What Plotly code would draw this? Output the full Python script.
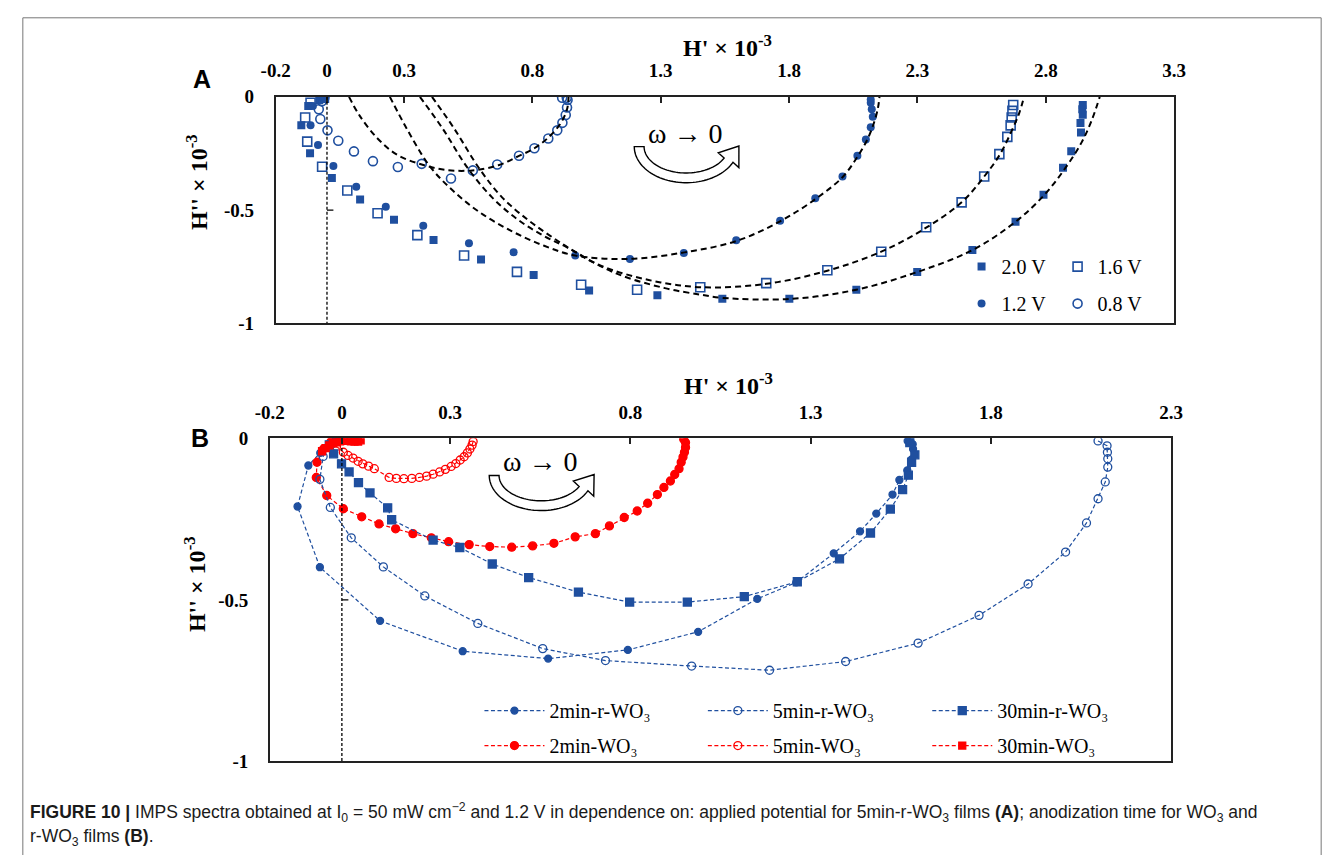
import numpy as np
import plotly.graph_objects as go

W, H = 1341, 866
BLUE = "#1f4f9f"
RED = "#ff0000"
SERIF = "Liberation Serif"
SANS = "Liberation Sans"

# ---------------- Panel A data (5min-r-WO3 at different potentials) ----------------
a20_x = [-0.010, -0.030, -0.073, -0.100, -0.066, 0.019, 0.129, 0.261, 0.415, 0.600, 0.805, 1.021, 1.287,
         1.540, 1.801, 2.062, 2.299, 2.514, 2.682, 2.791, 2.867, 2.899, 2.937, 2.935, 2.944, 2.942, 2.944]
a20_y = [-0.004, -0.015, -0.040, -0.126, -0.249, -0.359, -0.453, -0.543, -0.632, -0.718, -0.787, -0.855, -0.876,
         -0.892, -0.892, -0.852, -0.774, -0.677, -0.552, -0.432, -0.313, -0.240, -0.158, -0.116, -0.079, -0.055, -0.036]

a16_x = [-0.012, -0.064, -0.085, -0.077, -0.019, 0.079, 0.197, 0.352, 0.534, 0.740, 0.990, 1.208, 1.454,
         1.711, 1.949, 2.159, 2.334, 2.472, 2.560, 2.619, 2.650, 2.663, 2.667, 2.670, 2.673]
a16_y = [-0.004, -0.026, -0.091, -0.198, -0.309, -0.414, -0.514, -0.611, -0.701, -0.773, -0.830, -0.852, -0.841,
         -0.823, -0.766, -0.684, -0.576, -0.466, -0.352, -0.253, -0.177, -0.126, -0.091, -0.062, -0.036]

a12_x = [-0.008, -0.055, -0.064, -0.035, 0.025, 0.114, 0.229, 0.375, 0.553, 0.727, 0.967, 1.180, 1.390,
         1.594, 1.765, 1.902, 2.008, 2.066, 2.099, 2.118, 2.126, 2.122, 2.118, 2.118]
a12_y = [-0.003, -0.040, -0.126, -0.213, -0.306, -0.397, -0.486, -0.569, -0.647, -0.687, -0.701, -0.716, -0.690,
         -0.634, -0.547, -0.448, -0.352, -0.260, -0.188, -0.134, -0.088, -0.055, -0.026, -0.012]

a08_x = [-0.010, -0.020, -0.032, -0.026, 0.002, 0.044, 0.105, 0.179, 0.276, 0.369, 0.483, 0.568, 0.663,
         0.748, 0.808, 0.862, 0.897, 0.917, 0.930, 0.935, 0.937, 0.916, 0.934]
a08_y = [-0.003, -0.020, -0.055, -0.098, -0.148, -0.194, -0.241, -0.284, -0.310, -0.296, -0.361, -0.325, -0.299,
         -0.260, -0.227, -0.184, -0.148, -0.115, -0.080, -0.047, -0.014, -0.004, -0.004]

# fitted curves (dashed black)
fit08_x = [0.086, 0.127, 0.197, 0.273, 0.369, 0.464, 0.566, 0.668, 0.744, 0.808, 0.858, 0.909, 0.935, 0.941]
fit08_y = [0.0, -0.083, -0.184, -0.256, -0.299, -0.323, -0.325, -0.302, -0.263, -0.227, -0.184, -0.119, -0.055, 0.0]
fit12_x = [0.245, 0.311, 0.400, 0.490, 0.591, 0.719, 0.846, 0.967, 1.177, 1.393, 1.594, 1.765, 1.902, 2.008,
           2.066, 2.105, 2.132, 2.146, 2.152]
fit12_y = [0.0, -0.141, -0.306, -0.414, -0.507, -0.593, -0.658, -0.701, -0.716, -0.687, -0.637, -0.550, -0.452,
           -0.355, -0.265, -0.188, -0.110, -0.050, 0.0]
fit16_x = [0.362, 0.451, 0.547, 0.642, 0.744, 0.846, 0.935, 1.062, 1.253, 1.456, 1.711, 1.949, 2.159, 2.334,
           2.472, 2.560, 2.622, 2.667, 2.697, 2.715]
fit16_y = [0.0, -0.141, -0.313, -0.443, -0.543, -0.615, -0.665, -0.744, -0.809, -0.841, -0.826, -0.768, -0.684,
           -0.578, -0.466, -0.352, -0.253, -0.150, -0.070, 0.0]
fit20_x = [0.409, 0.496, 0.591, 0.681, 0.782, 0.871, 0.960, 1.126, 1.316, 1.456, 1.540, 1.801, 2.062, 2.299,
           2.514, 2.682, 2.795, 2.877, 2.940, 2.980, 3.010]
fit20_y = [0.0, -0.141, -0.313, -0.443, -0.543, -0.615, -0.680, -0.780, -0.845, -0.874, -0.888, -0.893, -0.852,
           -0.774, -0.677, -0.552, -0.432, -0.313, -0.200, -0.100, 0.0]

# ---------------- Panel B data (anodization time) ----------------
b2r_x = [-0.010, -0.030, -0.060, -0.093, -0.123, -0.061, 0.106, 0.335, 0.572, 0.793, 0.988, 1.152, 1.260,
         1.364, 1.437, 1.482, 1.527, 1.546, 1.568, 1.580, 1.584, 1.583, 1.569]
b2r_y = [-0.003, -0.015, -0.045, -0.084, -0.211, -0.399, -0.565, -0.659, -0.682, -0.655, -0.599, -0.497, -0.446,
         -0.356, -0.288, -0.233, -0.174, -0.129, -0.099, -0.065, -0.033, -0.018, -0.008]

b5r_x = [-0.010, -0.030, -0.052, -0.061, -0.032, 0.026, 0.115, 0.230, 0.377, 0.557, 0.731, 0.970, 1.186,
         1.397, 1.598, 1.767, 1.903, 2.007, 2.065, 2.097, 2.117, 2.124, 2.124, 2.123, 2.122, 2.097]
b5r_y = [-0.003, -0.020, -0.056, -0.127, -0.214, -0.308, -0.398, -0.488, -0.573, -0.651, -0.688, -0.705, -0.718,
         -0.691, -0.634, -0.548, -0.451, -0.352, -0.262, -0.187, -0.135, -0.089, -0.063, -0.043, -0.023, -0.008]

b30r_x = [-0.015, -0.035, -0.023, -0.001, 0.020, 0.046, 0.078, 0.127, 0.138, 0.253, 0.327, 0.417, 0.518,
          0.656, 0.798, 0.958, 1.116, 1.263, 1.380, 1.466, 1.521, 1.555, 1.571, 1.580, 1.589, 1.575]
b30r_y = [-0.003, -0.020, -0.048, -0.079, -0.104, -0.137, -0.169, -0.215, -0.252, -0.315, -0.338, -0.389, -0.431,
          -0.476, -0.507, -0.507, -0.490, -0.444, -0.373, -0.293, -0.219, -0.159, -0.114, -0.074, -0.051, -0.013]

b2_x = [-0.010, -0.030, -0.051, -0.069, -0.071, -0.042, 0.004, 0.055, 0.103, 0.149, 0.197, 0.248, 0.296,
        0.353, 0.410, 0.471, 0.529, 0.588, 0.647, 0.703, 0.742, 0.783, 0.819, 0.848, 0.875, 0.893, 0.911,
        0.923, 0.935, 0.941, 0.946, 0.950, 0.953, 0.953, 0.948]
b2_y = [-0.002, -0.012, -0.033, -0.074, -0.121, -0.177, -0.218, -0.243, -0.265, -0.280, -0.295, -0.308, -0.320,
        -0.329, -0.335, -0.337, -0.333, -0.325, -0.305, -0.295, -0.271, -0.245, -0.225, -0.201, -0.174, -0.152,
        -0.132, -0.112, -0.094, -0.074, -0.058, -0.043, -0.028, -0.013, -0.003]

b5_x = [-0.030, -0.015, 0.004, 0.017, 0.031, 0.045, 0.058, 0.074, 0.090, 0.131, 0.151, 0.172, 0.194, 0.215,
        0.235, 0.253, 0.271, 0.287, 0.303, 0.316, 0.328, 0.339, 0.348, 0.355, 0.361, 0.364]
b5_y = [-0.010, -0.025, -0.043, -0.053, -0.061, -0.071, -0.079, -0.086, -0.094, -0.121, -0.124, -0.125, -0.124,
        -0.121, -0.117, -0.111, -0.104, -0.096, -0.087, -0.078, -0.067, -0.057, -0.045, -0.033, -0.021, -0.010]

b30_x = [-0.055, -0.045, -0.035, -0.025, -0.015, -0.005, 0.005, 0.015, 0.025, 0.035, 0.045, 0.052]
b30_y = [-0.040, -0.030, -0.022, -0.016, -0.012, -0.009, -0.008, -0.008, -0.009, -0.010, -0.010, -0.006]

# ticks
a_tickvals = [-0.2, 0, 0.3, 0.8, 1.3, 1.8, 2.3, 2.8, 3.3]
a_ticktext = ["-0.2", "0", "0.3", "0.8", "1.3", "1.8", "2.3", "2.8", "3.3"]
b_tickvals = [-0.2, 0, 0.3, 0.8, 1.3, 1.8, 2.3]
b_ticktext = ["-0.2", "0", "0.3", "0.8", "1.3", "1.8", "2.3"]
y_tickvals = [0, -0.5, -1]
y_ticktext = ["0", "-0.5", "-1"]

# ---------------- layout geometry (pixels) ----------------
A_L, A_R, A_T, A_B = 266, 1183, 89, 321
B_L, B_R, B_T, B_B = 260, 1180, 439, 770


def px(x):
    return x / W


def py(y):
    return 1 - y / H


fig = go.Figure()

# Panel A markers
mk_line = dict(color=BLUE, width=1.6)
fig.add_trace(go.Scatter(x=a20_x, y=a20_y, mode="markers", name="2.0 V", legend="legend", legendgroup="a20",
                         marker=dict(symbol="square", size=8, color=BLUE), xaxis="x", yaxis="y"))
fig.add_trace(go.Scatter(x=a12_x, y=a12_y, mode="markers", name="1.2 V", legend="legend", legendgroup="a12",
                         marker=dict(symbol="circle", size=8, color=BLUE), xaxis="x", yaxis="y"))
fig.add_trace(go.Scatter(x=a16_x, y=a16_y, mode="markers", name="1.6 V", legend="legend2", legendgroup="a16",
                         marker=dict(symbol="square-open", size=9, color=BLUE, line=mk_line), xaxis="x", yaxis="y"))
fig.add_trace(go.Scatter(x=a08_x, y=a08_y, mode="markers", name="0.8 V", legend="legend2", legendgroup="a08",
                         marker=dict(symbol="circle-open", size=9, color=BLUE, line=mk_line), xaxis="x", yaxis="y"))
for fx, fy in [(fit08_x, fit08_y), (fit12_x, fit12_y), (fit16_x, fit16_y), (fit20_x, fit20_y)]:
    fig.add_trace(go.Scatter(x=fx, y=fy, mode="lines", showlegend=False, hoverinfo="skip",
                             line=dict(color="black", width=2, dash="6px,4px", shape="spline", smoothing=1.0),
                             xaxis="x", yaxis="y"))

# Panel B series
bl = dict(width=1.2, dash="4px,2.5px")
series_b = [
    (b2r_x, b2r_y, "2min-r-WO₃", BLUE, "circle", 7, "legend3"),
    (b2_x, b2_y, "2min-WO₃", RED, "circle", 8, "legend3"),
    (b5r_x, b5r_y, "5min-r-WO₃", BLUE, "circle-open", 8, "legend4"),
    (b5_x, b5_y, "5min-WO₃", RED, "circle-open", 8, "legend4"),
    (b30r_x, b30r_y, "30min-r-WO₃", BLUE, "square", 8, "legend5"),
    (b30_x, b30_y, "30min-WO₃", RED, "square", 7, "legend5"),
]
for i, (sx, sy, nm, col, sym, sz, lg) in enumerate(series_b):
    fig.add_trace(go.Scatter(x=sx, y=sy, mode="lines+markers", name=nm, legend=lg, legendgroup=nm,
                             line=dict(color=col, **bl),
                             marker=dict(symbol=sym, size=sz, color=col, line=dict(color=col, width=1.3)),
                             xaxis="x2", yaxis="y2"))

ax_common = dict(showgrid=False, zeroline=False, showline=True, linecolor="#222", linewidth=1.5,
                 mirror=True, tickfont=dict(family=SERIF, size=19, color="black", weight="bold"))
fig.update_layout(
    width=W, height=H, margin=dict(l=0, r=0, t=0, b=0),
    paper_bgcolor="white", plot_bgcolor="white", showlegend=True,
    xaxis=dict(domain=[px(A_L), px(A_R)], range=[-0.2, 3.3], side="top", anchor="y",
               tickvals=a_tickvals, ticktext=a_ticktext, ticks="inside", ticklen=6, tickwidth=1.5,
               tickcolor="#222", ticklabelstandoff=10, **ax_common),
    yaxis=dict(domain=[py(A_B), py(A_T)], range=[-1, 0], anchor="x",
               tickvals=y_tickvals, ticktext=y_ticktext, ticks="", ticklabelstandoff=16, **ax_common),
    xaxis2=dict(domain=[px(B_L), px(B_R)], range=[-0.2, 2.3], side="top", anchor="y2",
                tickvals=b_tickvals, ticktext=b_ticktext, ticks="inside", ticklen=6, tickwidth=1.5,
                tickcolor="#222", ticklabelstandoff=10, **ax_common),
    yaxis2=dict(domain=[py(B_B), py(B_T)], range=[-1, 0], anchor="x2",
                tickvals=y_tickvals, ticktext=y_ticktext, ticks="", ticklabelstandoff=16, **ax_common),
)

leg_font = dict(family=SERIF, size=20, color="black")
legA = dict(font=leg_font, bgcolor="rgba(0,0,0,0)", xanchor="left", yanchor="top", itemwidth=30,
            tracegroupgap=8, traceorder="grouped")
legB = dict(font=leg_font, bgcolor="rgba(0,0,0,0)", xanchor="left", yanchor="top", itemwidth=60,
            tracegroupgap=6, traceorder="grouped")
fig.update_layout(
    legend=dict(x=px(966), y=py(243), **legA),
    legend2=dict(x=px(1064), y=py(243), **legA),
    legend3=dict(x=px(474), y=py(698), **legB),
    legend4=dict(x=px(702), y=py(698), **legB),
    legend5=dict(x=px(931), y=py(698), **legB),
)

shapes = []
# dashed x=0 lines
shapes.append(dict(type="line", xref="x", yref="y", x0=0, x1=0, y0=0, y1=-1,
                   line=dict(color="black", width=1.3, dash="3px,2px")))
shapes.append(dict(type="line", xref="x2", yref="y2", x0=0, x1=0, y0=-0.03, y1=-1,
                   line=dict(color="black", width=1.3, dash="3px,2px")))
# small tick marks at -0.5 on the x=0 axes
shapes.append(dict(type="line", xref="x", yref="y", x0=0, x1=0.025, y0=-0.5, y1=-0.5,
                   line=dict(color="black", width=1.3)))
shapes.append(dict(type="line", xref="x2", yref="y2", x0=0, x1=0.018, y0=-0.5, y1=-0.5,
                   line=dict(color="black", width=1.3)))


def arrow_path(cx, cy, ryo=37):
    rxo, rxi = 53, 43
    ryi = ryo - 10
    t_end = 0.45
    ts = np.linspace(np.pi, t_end, 50)
    outer = [(cx + rxo * np.cos(t), cy + ryo * np.sin(t)) for t in ts]
    inner = [(cx + rxi * np.cos(t), cy + ryi * np.sin(t)) for t in ts[::-1]]
    mo, mi = outer[-1], inner[0]
    mid = ((mo[0] + mi[0]) / 2, (mo[1] + mi[1]) / 2)
    rx, ry = (rxo + rxi) / 2, (ryo + ryi) / 2
    d = np.array([rx * np.sin(t_end), -ry * np.cos(t_end)])
    d = d / np.linalg.norm(d)
    n = np.array([-d[1], d[0]])
    wo = (mid[0] + n[0] * 13, mid[1] + n[1] * 13)
    wi = (mid[0] - n[0] * 13, mid[1] - n[1] * 13)
    tip = (mid[0] + d[0] * 18, mid[1] + d[1] * 18)
    pts = outer + [wo, tip, wi] + inner
    s = "M " + " L ".join(f"{px(p[0]):.5f},{py(p[1]):.5f}" for p in pts) + " Z"
    return s


shapes.append(dict(type="path", xref="paper", yref="paper", path=arrow_path(685, 140),
                   fillcolor="white", line=dict(color="black", width=1.4)))
shapes.append(dict(type="path", xref="paper", yref="paper", path=arrow_path(537, 477, 36),
                   fillcolor="white", line=dict(color="black", width=1.4)))

# outer frame
frame = dict(color="#777", width=1)
shapes.append(dict(type="line", xref="paper", yref="paper", x0=px(8), x1=px(8), y0=py(8), y1=0, line=frame))
shapes.append(dict(type="line", xref="paper", yref="paper", x0=px(8), x1=px(1333), y0=py(8), y1=py(8), line=frame))
shapes.append(dict(type="line", xref="paper", yref="paper", x0=px(1333), x1=px(1333), y0=py(8), y1=0, line=frame))
fig.update_layout(shapes=shapes)

ann = []
title_font = dict(family=SERIF, size=24, color="black", weight="bold")
ann.append(dict(x=px(727), y=py(37), text="H' × 10<sup>-3</sup>", font=title_font))
ann.append(dict(x=px(728), y=py(383), text="H' × 10<sup>-3</sup>", font=title_font))
ann.append(dict(x=px(185), y=py(176), text="H'' × 10<sup>-3</sup>", font=title_font, textangle=-90))
ann.append(dict(x=px(183), y=py(588), text="H'' × 10<sup>-3</sup>", font=title_font, textangle=-90))
ann.append(dict(x=px(191), y=py(71), text="<b>A</b>", font=dict(family=SANS, size=25, color="black")))
ann.append(dict(x=px(189), y=py(439), text="<b>B</b>", font=dict(family=SANS, size=25, color="black")))
om_font = dict(family=SERIF, size=28, color="black")
ann.append(dict(x=px(684), y=py(127), text="ω → 0", font=om_font))
ann.append(dict(x=px(536), y=py(463), text="ω → 0", font=om_font))
cap_font = dict(family=SANS, size=17.5, color="#1a1a1a")
ann.append(dict(x=px(13), y=py(822), xanchor="left",
                text="<b>FIGURE 10 |</b> IMPS spectra obtained at I<sub>0</sub> = 50 mW cm<sup>−2</sup> and 1.2 V "
                     "in dependence on: applied potential for 5min-r-WO<sub>3</sub> films <b>(A)</b>; anodization "
                     "time for WO<sub>3</sub> and", font=cap_font))
ann.append(dict(x=px(13), y=py(848), xanchor="left", text="r-WO<sub>3</sub> films <b>(B)</b>.", font=cap_font))
for a in ann:
    a.setdefault("xref", "paper")
    a.setdefault("yref", "paper")
    a.setdefault("showarrow", False)
    a.setdefault("xanchor", "center")
    a.setdefault("yanchor", "middle")
fig.update_layout(annotations=ann)

fig.write_html("out.html")
